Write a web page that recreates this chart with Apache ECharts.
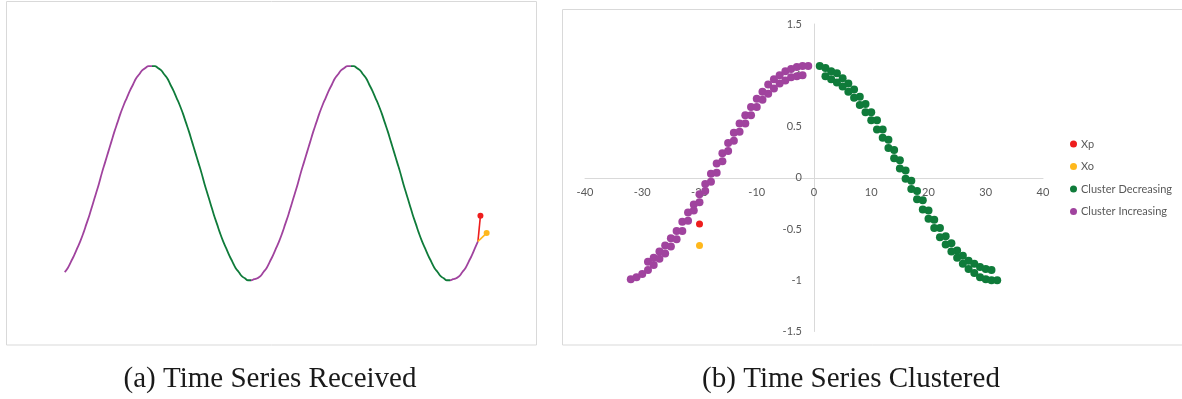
<!DOCTYPE html>
<html>
<head>
<meta charset="utf-8">
<title>Time Series</title>
<script src="https://cdn.jsdelivr.net/npm/echarts/dist/echarts.min.js"></script>
<style>
  html, body { margin: 0; padding: 0; background: #fff; }
  #main { width: 1182px; height: 399px; }
</style>
</head>
<body>
<div id="main"></div>
<script>
// (a) received series, one value per sample
const receivedValues = [
  -0.92, -0.88, -0.82, -0.76, -0.69, -0.62, -0.54, -0.45, -0.36, -0.26, -0.16, -0.06, 0.05, 0.15, 0.25,
  0.35, 0.45, 0.54, 0.63, 0.71, 0.78, 0.85, 0.91, 0.97, 1.01, 1.05, 1.07, 1.09, 1.09,
  1.09, 1.07, 1.05, 1.01, 0.97, 0.91, 0.85, 0.78, 0.71, 0.63, 0.54, 0.45, 0.35, 0.25, 0.15, 0.05,
  -0.06, -0.16, -0.26, -0.36, -0.45, -0.54, -0.62, -0.69, -0.76, -0.82, -0.88, -0.92, -0.96, -0.98, -1.0, -1.0,
  -0.99, -0.98, -0.96, -0.92, -0.88, -0.82, -0.76, -0.69, -0.62, -0.54, -0.45, -0.36, -0.26, -0.16, -0.06, 0.05,
  0.15, 0.25, 0.35, 0.45, 0.54, 0.63, 0.71, 0.78, 0.85, 0.91, 0.97, 1.01, 1.05, 1.07, 1.09, 1.09,
  1.09, 1.07, 1.05, 1.01, 0.97, 0.91, 0.85, 0.78, 0.71, 0.63, 0.54, 0.45, 0.35, 0.25, 0.15, 0.05,
  -0.06, -0.16, -0.26, -0.36, -0.45, -0.54, -0.62, -0.69, -0.76, -0.82, -0.88, -0.92, -0.96, -0.98, -1.0, -1.0,
  -0.99, -0.98, -0.96, -0.92, -0.88, -0.82, -0.76, -0.69, -0.62
];
// sample index where the line switches increasing / decreasing
const segmentBreaks = [28, 60, 92, 124];
// predicted (Xp) and observed (Xo) next values after the last sample
const receivedXp = [[133, -0.62], [133.8, -0.37]];
const receivedXo = [[133, -0.62], [135.8, -0.54]];

// (b) clustered points
const incUpperX = [-29, -28, -27, -26, -25, -24, -23, -22, -21, -20, -19, -18, -17, -16, -15, -14, -13, -12, -11, -10, -9, -8, -7, -6, -5, -4, -3, -2, -1];
const incUpperY = [-0.82, -0.78, -0.72, -0.66, -0.59, -0.52, -0.43, -0.34, -0.26, -0.16, -0.06, 0.04, 0.14, 0.24, 0.34, 0.44, 0.53, 0.61, 0.69, 0.77, 0.84, 0.91, 0.96, 1.0, 1.04, 1.06, 1.08, 1.09, 1.09];
const incLowerX = [-32, -31, -30, -29, -28, -27, -26, -25, -24, -23, -22, -21, -20, -19, -18, -17, -16, -15, -14, -13, -12, -11, -10, -9, -8, -7, -6, -5, -4, -3, -2];
const incLowerY = [-0.99, -0.97, -0.94, -0.9, -0.85, -0.79, -0.74, -0.67, -0.6, -0.52, -0.42, -0.32, -0.24, -0.13, -0.04, 0.05, 0.16, 0.26, 0.36, 0.45, 0.53, 0.61, 0.69, 0.76, 0.82, 0.87, 0.92, 0.95, 0.98, 0.99, 1.0];
const decUpperX = [1, 2, 3, 4, 5, 6, 7, 8, 9, 10, 11, 12, 13, 14, 15, 16, 17, 18, 19, 20, 21, 22, 23, 24, 25, 26, 27, 28, 29, 30, 31];
const decUpperY = [1.09, 1.07, 1.04, 1.02, 0.97, 0.92, 0.86, 0.79, 0.72, 0.64, 0.56, 0.47, 0.37, 0.27, 0.17, 0.07, -0.03, -0.13, -0.22, -0.32, -0.41, -0.49, -0.57, -0.64, -0.71, -0.76, -0.81, -0.84, -0.87, -0.89, -0.9];
const decLowerX = [2, 3, 4, 5, 6, 7, 8, 9, 10, 11, 12, 13, 14, 15, 16, 17, 18, 19, 20, 21, 22, 23, 24, 25, 26, 27, 28, 29, 30, 31, 32];
const decLowerY = [0.99, 0.96, 0.93, 0.89, 0.84, 0.78, 0.71, 0.64, 0.56, 0.47, 0.39, 0.29, 0.19, 0.09, -0.01, -0.11, -0.21, -0.31, -0.4, -0.49, -0.58, -0.65, -0.72, -0.78, -0.84, -0.89, -0.93, -0.97, -0.99, -1.0, -1.0];
const xpPoint = [[-20, -0.45]];
const xoPoint = [[-20, -0.66]];

const xTicks = { min: -40, max: 40, interval: 10 };
const yTicks = { min: -1.5, max: 1.5, interval: 0.5 };

const PURPLE = "#A0439E";
const GREEN = "#0F7B3A";
const RED = "#EE1D1D";
const ORANGE = "#FFB81C";
const AXIS_GREY = "#D9D9D9";
const LABEL_GREY = "#595959";

// 右图网格
const GRID_B = { left: 585, top: 24, width: 458, height: 307.5 };

const zip = (xs, ys) => xs.map((x, i) => [x, ys[i]]);

const chart = echarts.init(document.getElementById("main"));

// 按折线段上色: 上升紫色, 下降绿色
const pieces = [];
let from = -Infinity;
segmentBreaks.concat([Infinity]).forEach((b, i) => {
  pieces.push({ gte: from, lt: b, color: i % 2 === 0 ? PURPLE : GREEN });
  from = b;
});

// 坐标轴穿过原点: 用 offset 把整条轴(含刻度文字)移到 0 处
const xAxisShift = -GRID_B.height * (0 - yTicks.min) / (yTicks.max - yTicks.min);
const yAxisShift = -GRID_B.width * (0 - xTicks.min) / (xTicks.max - xTicks.min);

const option = {
  animation: false,
  textStyle: { fontFamily: "Lato" },
  grid: [
    { left: 64.7, top: 24, width: 435, height: 307.5 },
    GRID_B
  ],
  xAxis: [
    { gridIndex: 0, type: "value", min: 0, max: 140, show: false },
    {
      gridIndex: 1, type: "value", min: xTicks.min, max: xTicks.max, interval: xTicks.interval,
      position: "bottom",
      offset: xAxisShift,
      axisLine: { onZero: false, lineStyle: { color: AXIS_GREY, width: 1 } },
      axisTick: { show: false },
      splitLine: { show: false },
      axisLabel: { color: LABEL_GREY, fontSize: 11, margin: 9, fontFamily: "Lato" }
    }
  ],
  yAxis: [
    { gridIndex: 0, type: "value", min: yTicks.min, max: yTicks.max, show: false },
    {
      gridIndex: 1, type: "value", min: yTicks.min, max: yTicks.max, interval: yTicks.interval,
      position: "left",
      offset: yAxisShift,
      axisLine: { show: true, onZero: false, lineStyle: { color: AXIS_GREY, width: 1 } },
      axisTick: { show: false },
      splitLine: { show: false },
      axisLabel: { color: LABEL_GREY, fontSize: 11, margin: 12, fontFamily: "Lato" }
    }
  ],
  visualMap: {
    type: "piecewise",
    show: false,
    seriesIndex: 0,
    dimension: 0,
    pieces: pieces
  },
  legend: {
    data: ["Xp", "Xo", "Cluster Decreasing", "Cluster Increasing"],
    orient: "vertical",
    left: 1065,
    top: 133.5,
    icon: "circle",
    itemWidth: 7,
    itemHeight: 7,
    itemGap: 11.5,
    selectedMode: false,
    textStyle: { color: LABEL_GREY, fontSize: 11, fontFamily: "Lato", padding: [0, 0, 0, -1] }
  },
  series: [
    {
      name: "Received",
      type: "line",
      xAxisIndex: 0, yAxisIndex: 0,
      data: receivedValues.map((v, i) => [i, v]),
      showSymbol: false,
      smooth: true,
      lineStyle: { width: 1.8 }
    },
    {
      name: "Xp line",
      type: "line",
      xAxisIndex: 0, yAxisIndex: 0,
      data: receivedXp.map((p, i) => (i === 0 ? { value: p, symbol: "none" } : p)),
      symbol: "circle", symbolSize: 6,
      itemStyle: { color: RED },
      lineStyle: { color: RED, width: 1.6 }
    },
    {
      name: "Xo line",
      type: "line",
      xAxisIndex: 0, yAxisIndex: 0,
      data: receivedXo.map((p, i) => (i === 0 ? { value: p, symbol: "none" } : p)),
      symbol: "circle", symbolSize: 6,
      itemStyle: { color: ORANGE },
      lineStyle: { color: ORANGE, width: 1.6 }
    },
    {
      name: "Cluster Increasing",
      type: "scatter",
      xAxisIndex: 1, yAxisIndex: 1,
      data: zip(incUpperX, incUpperY).concat(zip(incLowerX, incLowerY)),
      symbolSize: 8,
      itemStyle: { color: PURPLE, opacity: 1 }
    },
    {
      name: "Cluster Decreasing",
      type: "scatter",
      xAxisIndex: 1, yAxisIndex: 1,
      data: zip(decUpperX, decUpperY).concat(zip(decLowerX, decLowerY)),
      symbolSize: 8,
      itemStyle: { color: GREEN, opacity: 1 }
    },
    {
      name: "Xp",
      type: "scatter",
      xAxisIndex: 1, yAxisIndex: 1,
      data: xpPoint,
      symbolSize: 7,
      itemStyle: { color: RED, opacity: 1 }
    },
    {
      name: "Xo",
      type: "scatter",
      xAxisIndex: 1, yAxisIndex: 1,
      data: xoPoint,
      symbolSize: 7,
      itemStyle: { color: ORANGE, opacity: 1 }
    }
  ],
  graphic: [
    // 面板边框
    { type: "rect", silent: true, z: -1, shape: { x: 6.5, y: 1.5, width: 530, height: 343.5 }, style: { fill: null, stroke: AXIS_GREY, lineWidth: 1 } },
    { type: "rect", silent: true, z: -1, shape: { x: 562.5, y: 9.5, width: 640, height: 335.5 }, style: { fill: null, stroke: AXIS_GREY, lineWidth: 1 } },
    // 图注
    { type: "text", silent: true, x: 270, y: 379, style: { text: "(a) Time Series Received", fill: "#1a1a1a", font: "29px 'Liberation Serif'", textAlign: "center", textVerticalAlign: "middle" } },
    { type: "text", silent: true, x: 851, y: 379, style: { text: "(b) Time Series Clustered", fill: "#1a1a1a", font: "29px 'Liberation Serif'", textAlign: "center", textVerticalAlign: "middle" } }
  ]
};

chart.setOption(option);
</script>
</body>
</html>
